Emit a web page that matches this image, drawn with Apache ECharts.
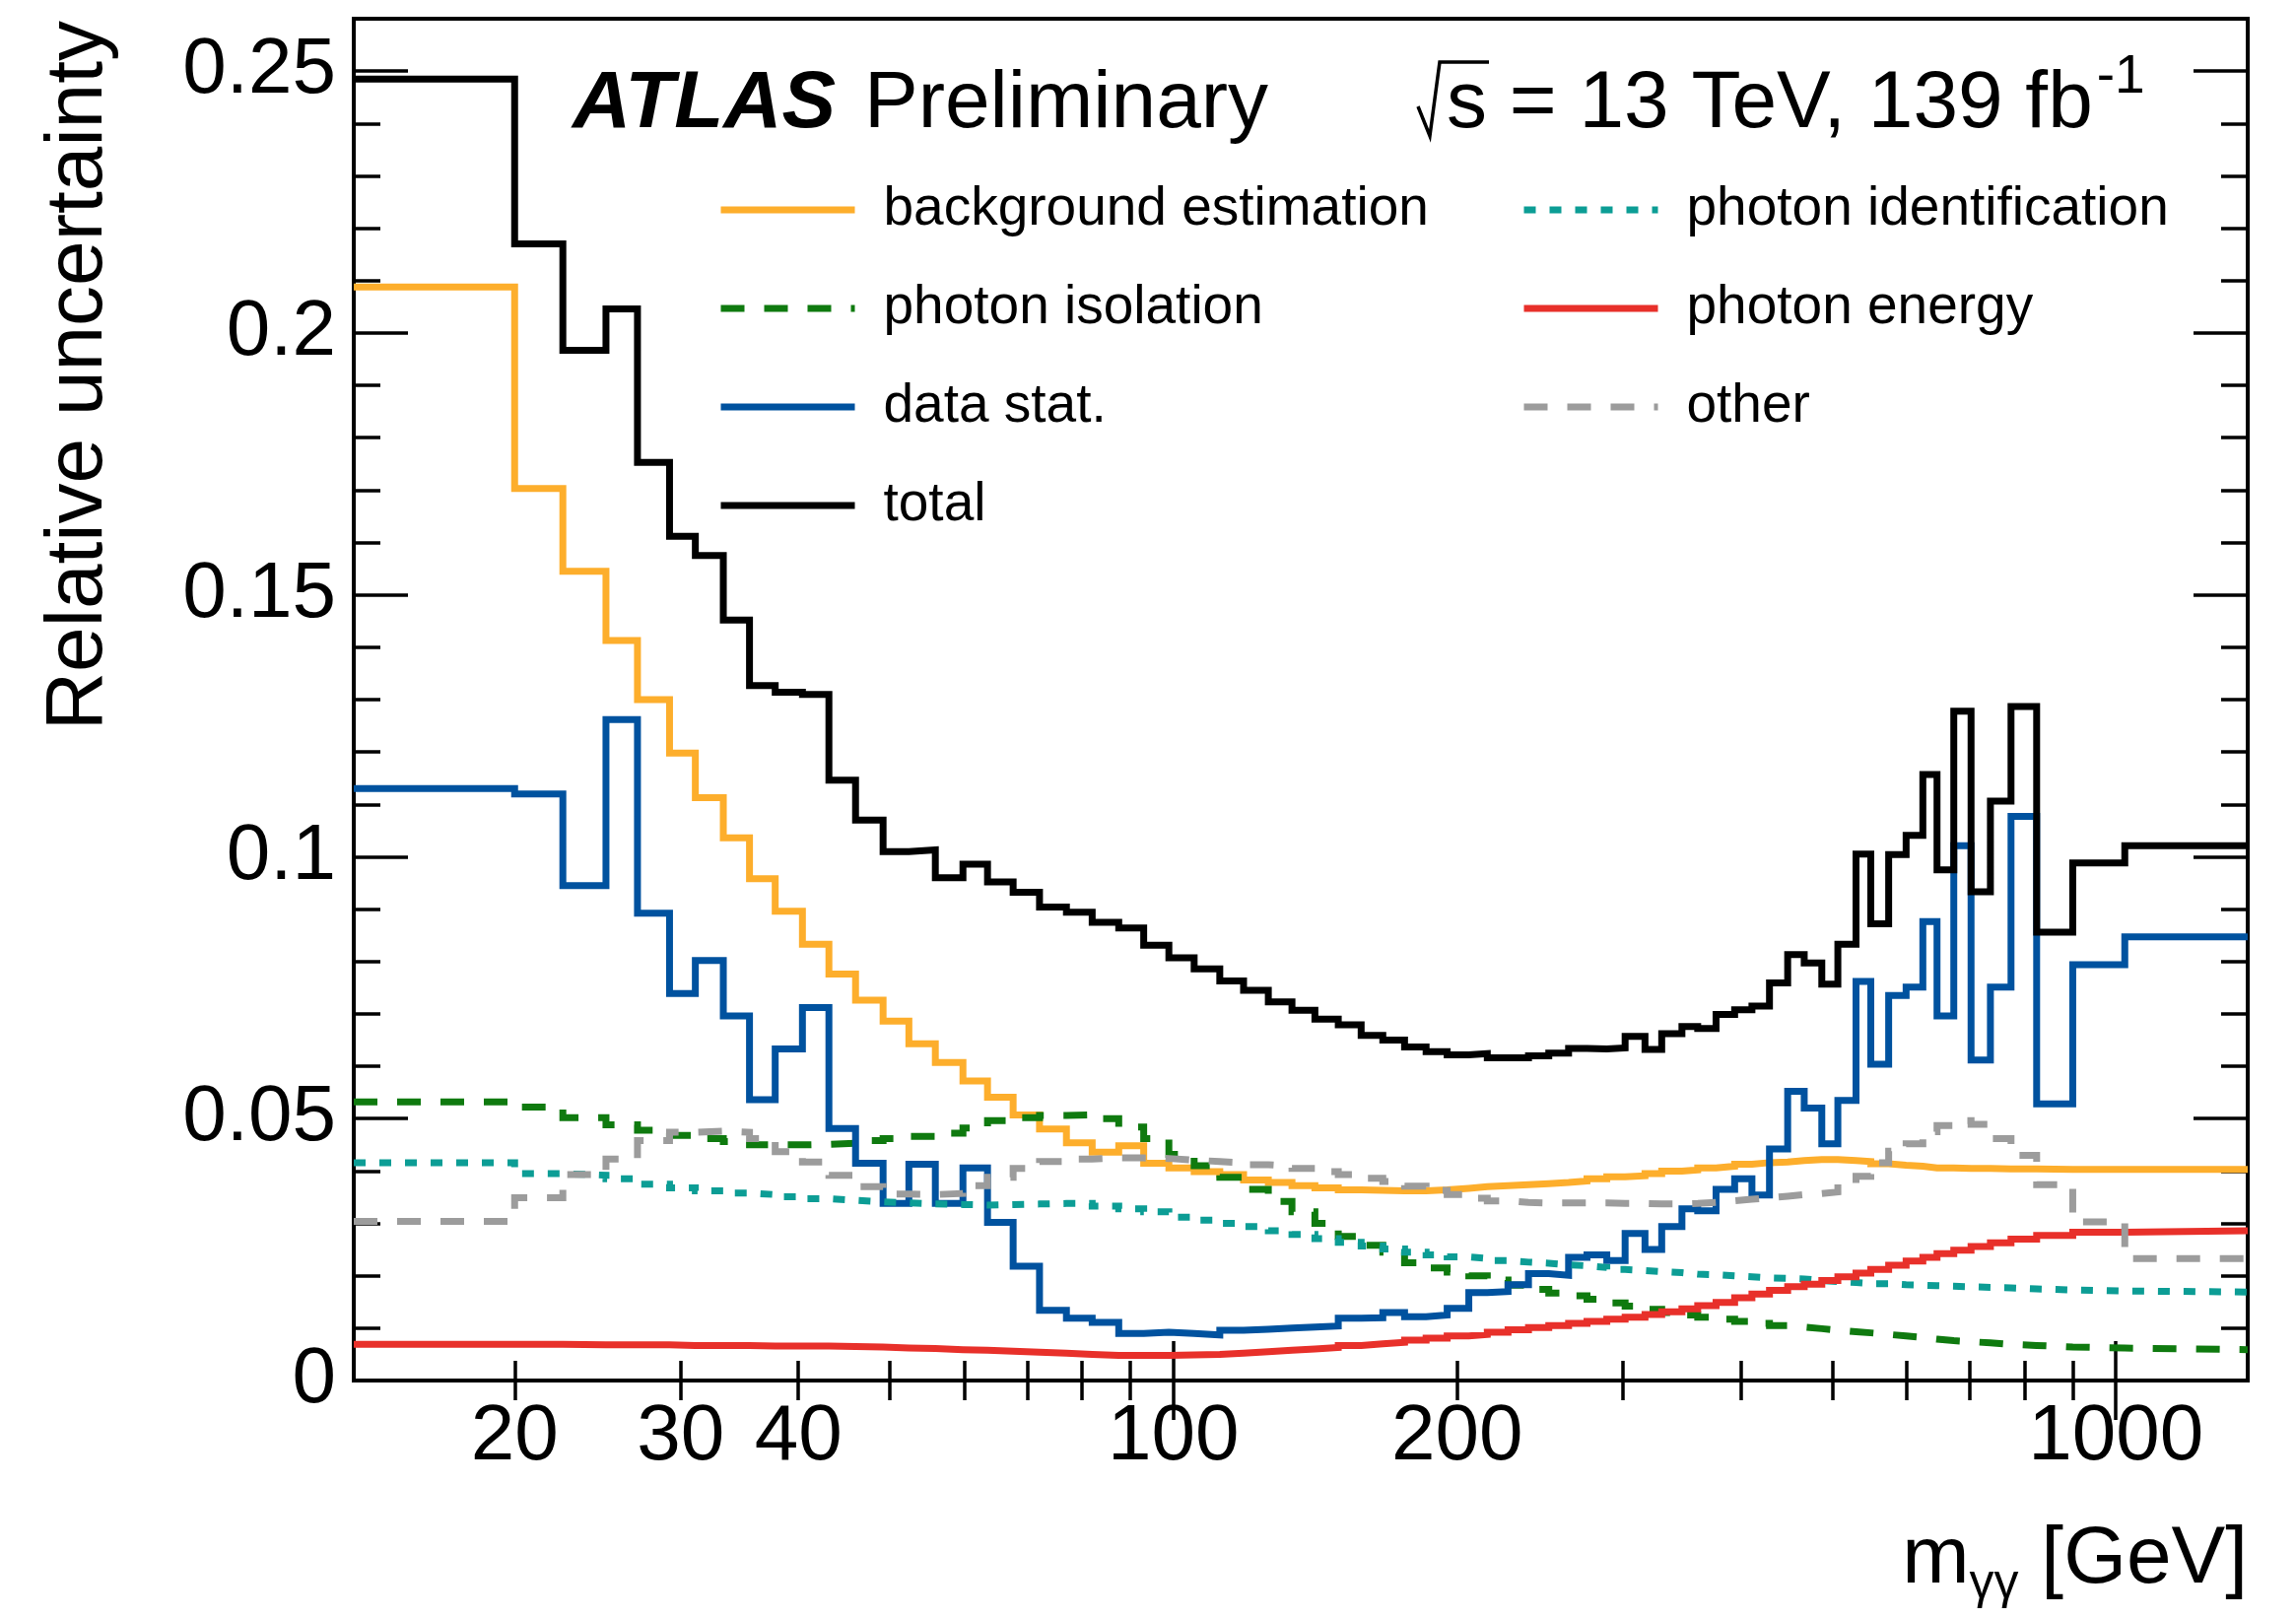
<!DOCTYPE html>
<html><head><meta charset="utf-8">
<script src="https://cdn.jsdelivr.net/npm/echarts@6/dist/echarts.min.js"></script>
<style>html,body{margin:0;padding:0;background:#fff}#c{width:2330px;height:1642px}</style>
</head><body><div id="c"></div>
<script>
// ---- data ----
const massEdges = [13.5, 20, 22.5, 25, 27, 29.2, 31.1, 33.3, 35.5, 37.8, 40.4, 43.1, 46, 49.2, 52.4, 55.9, 59.8, 63.5, 67.6, 72.1, 77, 82, 87.5, 93, 98.9, 105.2, 112, 118.7, 126.1, 133.6, 141.3, 149.6, 158.2, 166.8, 175.9, 185.4, 195.2, 205.8, 215.3, 226.5, 238.1, 250.2, 262.6, 274.7, 288.3, 301.5, 316.5, 329.7, 346.4, 360, 376.5, 394, 411, 429, 448.5, 467, 487.5, 507, 530, 549.5, 574, 599, 624, 646, 673, 702, 736, 774, 824, 900, 1022, 1380];

const bkgEstimation = [0.2088, 0.1703, 0.1545, 0.1413, 0.1300, 0.1198, 0.1113, 0.1036, 0.0958, 0.0896,
 0.0833, 0.0776, 0.0726, 0.0686, 0.0643, 0.0607, 0.0572, 0.0541, 0.0507, 0.0480,
 0.0454, 0.0436, 0.0448, 0.0415, 0.0406, 0.0399, 0.0393, 0.0383, 0.0378, 0.0372,
 0.0368, 0.0364, 0.0363, 0.0362, 0.0362, 0.0364, 0.0367, 0.0370, 0.0372, 0.0374,
 0.0376, 0.0378, 0.0381, 0.0385, 0.0389, 0.0391, 0.0395, 0.0400, 0.0402, 0.0406,
 0.0409, 0.0413, 0.0416, 0.0417, 0.0420, 0.0422, 0.0422, 0.0420, 0.0418, 0.0414,
 0.0411, 0.0409, 0.0406, 0.0406, 0.0405, 0.0405, 0.0404, 0.0404, 0.0403, 0.0403,
 0.0403];

const photonIsolation = [0.0532, 0.0522, 0.0502, 0.0488, 0.0478, 0.0468, 0.0462, 0.0456, 0.0450, 0.0450,
 0.0451, 0.0453, 0.0458, 0.0462, 0.0466, 0.0472, 0.0482, 0.0496, 0.0502, 0.0506,
 0.0507, 0.0500, 0.0484, 0.0462, 0.0432, 0.0410, 0.0388, 0.0365, 0.0342, 0.0322,
 0.0300, 0.0275, 0.0258, 0.0245, 0.0225, 0.0215, 0.0207, 0.0200, 0.0192, 0.0182,
 0.0174, 0.0167, 0.0162, 0.0155, 0.0148, 0.0142, 0.0136, 0.0130, 0.0125, 0.0121,
 0.0117, 0.0113, 0.0109, 0.0105, 0.0102, 0.0099, 0.0096, 0.0093, 0.0091, 0.0088,
 0.0085, 0.0082, 0.0079, 0.0076, 0.0074, 0.0072, 0.0069, 0.0067, 0.0064, 0.0062,
 0.0059];

const dataStat = [0.1130, 0.1120, 0.0945, 0.1262, 0.0892, 0.0739, 0.0802, 0.0696, 0.0536, 0.0633,
 0.0712, 0.0481, 0.0415, 0.0338, 0.0413, 0.0338, 0.0406, 0.0302, 0.0218, 0.0134,
 0.0119, 0.0111, 0.0090, 0.0092, 0.0090, 0.0087, 0.0096, 0.0098, 0.0100, 0.0102,
 0.0104, 0.0119, 0.0120, 0.0130, 0.0122, 0.0125, 0.0138, 0.0168, 0.0170, 0.0183,
 0.0204, 0.0201, 0.0235, 0.0240, 0.0229, 0.0281, 0.0250, 0.0294, 0.0328, 0.0324,
 0.0365, 0.0385, 0.0354, 0.0442, 0.0552, 0.0520, 0.0452, 0.0535, 0.0762, 0.0604,
 0.0735, 0.0751, 0.0876, 0.0696, 0.1021, 0.0612, 0.0751, 0.1077, 0.0528, 0.0794,
 0.0847];

const totalUnc = [0.2485, 0.2170, 0.1967, 0.2046, 0.1753, 0.1612, 0.1575, 0.1452, 0.1327, 0.1314,
 0.1310, 0.1146, 0.1070, 0.1010, 0.1013, 0.0960, 0.0986, 0.0952, 0.0932, 0.0904,
 0.0894, 0.0875, 0.0864, 0.0831, 0.0807, 0.0786, 0.0763, 0.0745, 0.0723, 0.0707,
 0.0690, 0.0679, 0.0659, 0.0650, 0.0637, 0.0628, 0.0622, 0.0624, 0.0616, 0.0616,
 0.0620, 0.0625, 0.0634, 0.0633, 0.0635, 0.0657, 0.0632, 0.0662, 0.0676, 0.0672,
 0.0699, 0.0708, 0.0715, 0.0759, 0.0813, 0.0797, 0.0757, 0.0833, 0.1005, 0.0872,
 0.1004, 0.1041, 0.1157, 0.0975, 0.1278, 0.0933, 0.1106, 0.1287, 0.0856, 0.0988,
 0.1021];

const photonId = [0.0416, 0.0395, 0.0392, 0.0385, 0.0375, 0.0368, 0.0362, 0.0358, 0.0355, 0.0351,
 0.0347, 0.0344, 0.0341, 0.0339, 0.0337, 0.0336, 0.0335, 0.0336, 0.0337, 0.0338,
 0.0338, 0.0333, 0.0328, 0.0322, 0.0312, 0.0306, 0.0300, 0.0294, 0.0286, 0.0279,
 0.0271, 0.0264, 0.0257, 0.0251, 0.0245, 0.0240, 0.0236, 0.0233, 0.0229, 0.0226,
 0.0224, 0.0221, 0.0219, 0.0216, 0.0212, 0.0210, 0.0208, 0.0206, 0.0203, 0.0202,
 0.0200, 0.0198, 0.0196, 0.0195, 0.0194, 0.0191, 0.0189, 0.0187, 0.0185, 0.0185,
 0.0183, 0.0182, 0.0181, 0.0180, 0.0179, 0.0178, 0.0177, 0.0175, 0.0173, 0.0171,
 0.0169];

const photonEnergy = [0.0069, 0.0069, 0.0068, 0.0068, 0.0068, 0.0067, 0.0067, 0.0067, 0.0066, 0.0066,
 0.0066, 0.0065, 0.0064, 0.0062, 0.0061, 0.0059, 0.0058, 0.0056, 0.0054, 0.0052,
 0.0050, 0.0048, 0.0048, 0.0048, 0.0049, 0.0050, 0.0052, 0.0055, 0.0058, 0.0060,
 0.0063, 0.0067, 0.0070, 0.0073, 0.0077, 0.0081, 0.0085, 0.0088, 0.0092, 0.0097,
 0.0101, 0.0105, 0.0109, 0.0113, 0.0117, 0.0121, 0.0126, 0.0131, 0.0137, 0.0143,
 0.0149, 0.0158, 0.0165, 0.0172, 0.0179, 0.0184, 0.0191, 0.0198, 0.0205, 0.0212,
 0.0220, 0.0228, 0.0235, 0.0242, 0.0249, 0.0256, 0.0263, 0.0270, 0.0277, 0.0283,
 0.0286];

const otherUnc = [0.0304, 0.0349, 0.0393, 0.0423, 0.0458, 0.0474, 0.0476, 0.0474, 0.0462, 0.0437,
 0.0417, 0.0392, 0.0370, 0.0356, 0.0355, 0.0357, 0.0372, 0.0388, 0.0405, 0.0418,
 0.0423, 0.0425, 0.0425, 0.0424, 0.0421, 0.0418, 0.0416, 0.0412, 0.0409, 0.0405,
 0.0399, 0.0393, 0.0386, 0.0380, 0.0371, 0.0363, 0.0355, 0.0348, 0.0343, 0.0340,
 0.0339, 0.0339, 0.0339, 0.0339, 0.0338, 0.0338, 0.0337, 0.0337, 0.0338, 0.0340,
 0.0343, 0.0346, 0.0349, 0.0352, 0.0355, 0.0357, 0.0360, 0.0376, 0.0390, 0.0416,
 0.0438, 0.0452, 0.0475, 0.0487, 0.0496, 0.0489, 0.0462, 0.0430, 0.0374, 0.0303,
 0.0233];

const xTickLabels = [20, 30, 40, 100, 200, 1000];
const xMinorTicks = [20, 30, 40, 50, 60, 70, 80, 90, 200, 300, 400, 500, 600, 700, 800, 900];
const xMajorTicks = [100, 1000];
const legendLeft = ['background estimation', 'photon isolation', 'data stat.', 'total'];
const legendRight = ['photon identification', 'photon energy', 'other'];

// ---- chart ----
const FONT = '"Liberation Sans", Arial, Helvetica, sans-serif';
const X_MIN = 13.5, X_MAX = 1380;
const LW = 7;

function hist(vals) {
  return massEdges.map((e, i) => [e, vals[Math.min(i, vals.length - 1)]]);
}

function xAxisCfg(pos, ticks, len, labels) {
  return {
    type: 'log', logBase: 10, min: X_MIN, max: X_MAX, position: pos,
    axisLine: { show: false }, splitLine: { show: false },
    minorTick: { show: false }, minorSplitLine: { show: false },
    axisTick: { show: true, inside: true, length: len, customValues: ticks,
      lineStyle: { color: '#000', width: 3.5 } },
    axisLabel: labels ? { show: true, customValues: labels, margin: 18, fontSize: 80,
      fontFamily: FONT, color: '#000', formatter: v => String(Math.round(v)) } : { show: false }
  };
}
function yAxisCfg(pos, interval, len, labels) {
  return {
    type: 'value', min: 0, max: 0.26, interval: interval, position: pos,
    axisLine: { show: false }, splitLine: { show: false },
    axisTick: { show: true, inside: true, length: len, lineStyle: { color: '#000', width: 3.5 } },
    axisLabel: labels ? { show: true, margin: 18, fontSize: 80, fontFamily: FONT, color: '#000',
      showMaxLabel: false } : { show: false }
  };
}
function mk(name, vals, color, type, z) {
  return {
    name: name, type: 'line', step: 'end', xAxisIndex: 0, yAxisIndex: 0,
    data: hist(vals), symbol: 'none', showSymbol: false, silent: true, z: z,
    lineStyle: { color: color, width: LW, type: type, cap: 'butt', join: 'miter' },
    itemStyle: { color: color }, emphasis: { disabled: true }
  };
}

const ctx = document.createElement('canvas').getContext('2d');
function tw(t, size) { ctx.font = size + 'px ' + FONT; return ctx.measureText(t).width; }

const mid = (base, fs) => base - 0.3465 * fs;   // baseline -> middle
const titleRight = 2281, titleBase = 1612;
const wGeV = tw(' [GeV]', 82), wGam = tw('γγ', 50);
const energyText = 's = 13 TeV, 139 fb';
const energyLeft = 1468;
const wEnergy = tw(energyText, 82);
const topBase = 135;

const legendCommon = {
  orient: 'vertical', top: 183, itemWidth: 136, itemHeight: 8, itemGap: 40, padding: 0,
  selectedMode: false, itemStyle: { opacity: 0 }, lineStyle: { width: LW },
  textStyle: { fontSize: 55, fontFamily: FONT, color: '#000', lineHeight: 60, padding: [0, 0, 0, 24] }
};

const option = {
  animation: false,
  backgroundColor: '#fff',
  grid: { left: 359, right: 49, top: 19, bottom: 241, show: true, borderColor: '#000',
    borderWidth: 4, backgroundColor: 'transparent', containLabel: false, outerBoundsMode: 'none' },
  xAxis: [
    xAxisCfg('bottom', xMinorTicks, 20, xTickLabels),
    xAxisCfg('bottom', xMajorTicks, 40, null),
    xAxisCfg('top', xMinorTicks, 20, null),
    xAxisCfg('top', xMajorTicks, 40, null)
  ],
  yAxis: [
    yAxisCfg('left', 0.05, 55, true),
    yAxisCfg('left', 0.01, 27, false),
    yAxisCfg('right', 0.05, 55, false),
    yAxisCfg('right', 0.01, 27, false)
  ],
  legend: [
    Object.assign({}, legendCommon, { left: 728, data: legendLeft }),
    Object.assign({}, legendCommon, { left: 1543, data: legendRight })
  ],
  series: [
    mk('background estimation', bkgEstimation, '#fdae2c', 'solid', 2),
    mk('photon isolation', photonIsolation, '#0f7a0f', [24, 20], 3),
    mk('data stat.', dataStat, '#00529f', 'solid', 4),
    mk('total', totalUnc, '#000000', 'solid', 5),
    mk('photon identification', photonId, '#0c9d95', [12, 14], 6),
    mk('photon energy', photonEnergy, '#e8302a', 'solid', 7),
    mk('other', otherUnc, '#9c9c9c', [24, 20], 8)
  ],
  graphic: [
    { type: 'text', x: 581, y: mid(topBase, 82), silent: true,
      style: { text: 'ATLAS', fontSize: 82, fontWeight: 'bold', fontStyle: 'italic', fontFamily: FONT,
        fill: '#000', align: 'left', verticalAlign: 'middle' } },
    { type: 'text', x: 877, y: mid(topBase, 82), silent: true,
      style: { text: 'Preliminary', fontSize: 82, fontFamily: FONT, fill: '#000', align: 'left', verticalAlign: 'middle' } },
    { type: 'polyline', silent: true,
      shape: { points: [[1439, 108], [1451, 138], [1461, 63], [energyLeft + tw('s', 82) + 2, 63]] },
      style: { stroke: '#000', lineWidth: 3.5, fill: null } },
    { type: 'text', x: energyLeft, y: mid(topBase, 82), silent: true,
      style: { text: energyText, fontSize: 82, fontFamily: FONT, fill: '#000', align: 'left', verticalAlign: 'middle' } },
    { type: 'text', x: energyLeft + wEnergy + 4, y: mid(topBase - 37, 55), silent: true,
      style: { text: '-1', fontSize: 55, fontFamily: FONT, fill: '#000', align: 'left', verticalAlign: 'middle' } },
    { type: 'text', x: 80, y: 21, rotation: Math.PI / 2, silent: true,
      style: { text: 'Relative uncertainty', fontSize: 82, fontFamily: FONT, fill: '#000', align: 'right', verticalAlign: 'middle' } },
    { type: 'text', x: titleRight, y: mid(titleBase, 82), silent: true,
      style: { text: ' [GeV]', fontSize: 82, fontFamily: FONT, fill: '#000', align: 'right', verticalAlign: 'middle' } },
    { type: 'text', x: titleRight - wGeV, y: mid(titleBase + 14, 50), silent: true,
      style: { text: 'γγ', fontSize: 50, fontFamily: FONT, fill: '#000', align: 'right', verticalAlign: 'middle' } },
    { type: 'text', x: titleRight - wGeV - wGam, y: mid(titleBase, 82), silent: true,
      style: { text: 'm', fontSize: 82, fontFamily: FONT, fill: '#000', align: 'right', verticalAlign: 'middle' } }
  ]
};

const chart = echarts.init(document.getElementById('c'), null, { renderer: 'canvas', width: 2330, height: 1642 });
chart.setOption(option);
</script>
</body></html>
